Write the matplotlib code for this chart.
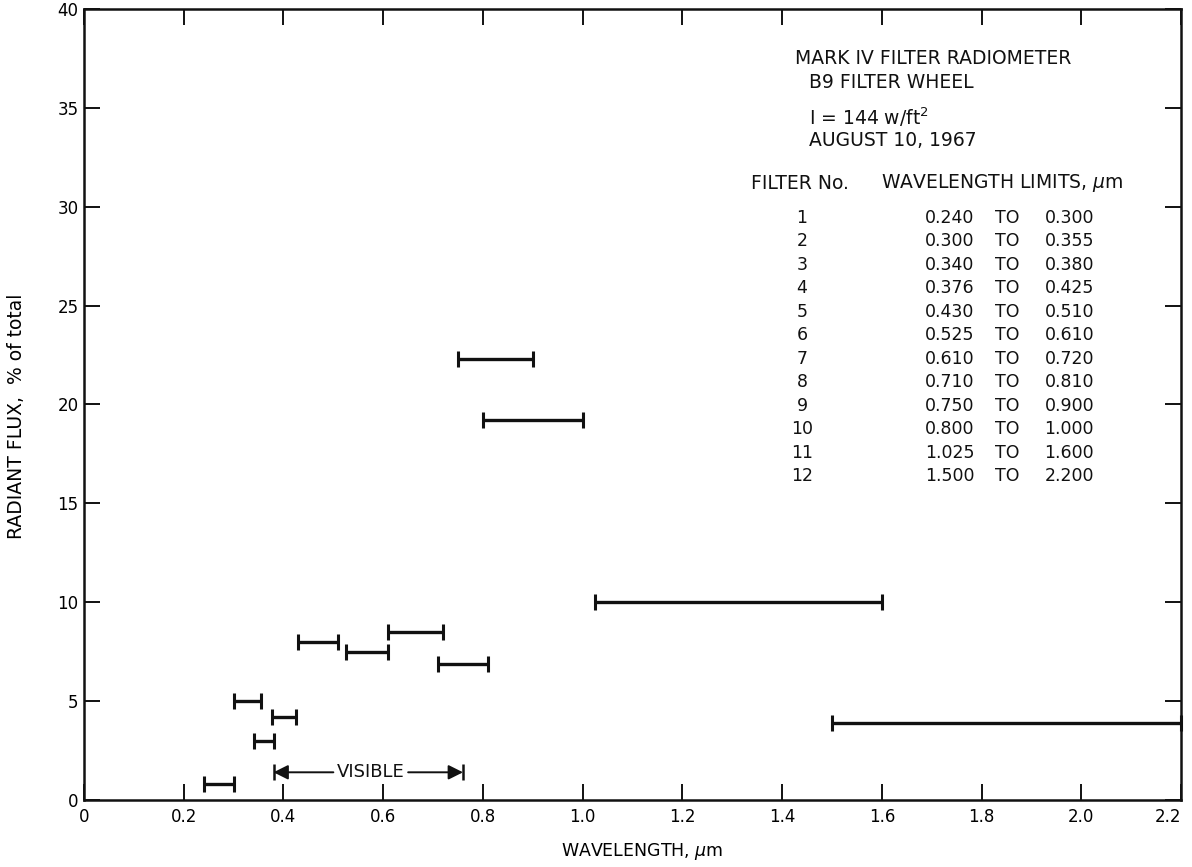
import matplotlib
matplotlib.use("Agg")
import matplotlib.pyplot as plt

# Filter passbands (micrometres) and measured radiant flux share (% of total)
filter_no = [1, 2, 3, 4, 5, 6, 7, 8, 9, 10, 11, 12]
lower_um = [0.240, 0.300, 0.340, 0.376, 0.430, 0.525, 0.610, 0.710, 0.750, 0.800, 1.025, 1.500]
upper_um = [0.300, 0.355, 0.380, 0.425, 0.510, 0.610, 0.720, 0.810, 0.900, 1.000, 1.600, 2.200]
flux_pct = [0.8, 5.0, 3.0, 4.2, 8.0, 7.5, 8.5, 6.9, 22.3, 19.2, 10.0, 3.9]

x_ticks = [0, 0.2, 0.4, 0.6, 0.8, 1.0, 1.2, 1.4, 1.6, 1.8, 2.0, 2.2]
x_ticklabels = ["0", "0.2", "0.4", "0.6", "0.8", "1.0", "1.2", "1.4", "1.6", "1.8", "2.0", "2.2"]
y_ticks = [0, 5, 10, 15, 20, 25, 30, 35, 40]

visible_band = (0.38, 0.76)

plt.rcParams["font.family"] = ["DejaVu Sans"]

fig = plt.figure(figsize=(11.92, 8.67), dpi=100)
ax = fig.add_axes([0.0705, 0.0773, 0.9203, 0.9123])

ink = "#111111"

# horizontal band segments with end caps
ax.hlines(flux_pct, lower_um, upper_um, color=ink, linewidth=2.4, zorder=3)
ax.plot(lower_um, flux_pct, linestyle="none", marker="|", markersize=11.5,
        markeredgewidth=2.2, color=ink, zorder=3, clip_on=False)
ax.plot(upper_um, flux_pct, linestyle="none", marker="|", markersize=11.5,
        markeredgewidth=2.2, color=ink, zorder=3, clip_on=False)

# visible-range marker
vy = 1.4
vmid = 0.575
ax.text(vmid, vy, "VISIBLE", ha="center", va="center", fontsize=13, color=ink)
ax.annotate("", xy=(visible_band[0], vy), xytext=(vmid - 0.075, vy),
            arrowprops=dict(arrowstyle="-|>", color=ink, lw=1.4,
                            mutation_scale=22, shrinkA=0, shrinkB=0))
ax.annotate("", xy=(visible_band[1], vy), xytext=(vmid + 0.075, vy),
            arrowprops=dict(arrowstyle="-|>", color=ink, lw=1.4,
                            mutation_scale=22, shrinkA=0, shrinkB=0))
ax.plot(list(visible_band), [vy, vy], linestyle="none", marker="|",
        markersize=12, markeredgewidth=1.8, color=ink)

ax.set_xlim(0, 2.2)
ax.set_ylim(0, 40)
ax.set_xticks(x_ticks)
ax.set_xticklabels(x_ticklabels)
ax.set_yticks(y_ticks)
ax.tick_params(direction="in", length=11.5, width=1.4, color=ink,
               labelsize=12, top=True, right=True, pad=6)
ax.tick_params(axis="y", pad=4)
# keep the last wavelength label inside the figure edge
ax.get_xticklabels()[-1].set_horizontalalignment("right")
for s in ax.spines.values():
    s.set_linewidth(1.8)
    s.set_color(ink)

ax.set_xlabel("WAVELENGTH, $\\mu$m", fontsize=12.5)
ax.xaxis.set_label_coords(0.509, -0.052)
ax.set_ylabel("RADIANT FLUX,  % of total", fontsize=13.5)
ax.yaxis.set_label_coords(-0.053, 0.485)

# title block and passband table
fs = 13.5
fn = 12.5
ax.text(1.425, 37.5, "MARK IV FILTER RADIOMETER", fontsize=fs, va="center", color=ink)
ax.text(1.453, 36.3, "B9 FILTER WHEEL", fontsize=fs, va="center", color=ink)
ax.text(1.453, 34.55, "I = 144 w/ft$^2$", fontsize=fs, va="center", color=ink)
ax.text(1.453, 33.35, "AUGUST 10, 1967", fontsize=fs, va="center", color=ink)
ax.text(1.337, 31.2, "FILTER No.", fontsize=fs, va="center", color=ink)
ax.text(1.598, 31.2, "WAVELENGTH LIMITS, $\\mu$m", fontsize=fs, va="center", color=ink)

row0 = 29.45
step = 1.19
for i, (n, lo, hi) in enumerate(zip(filter_no, lower_um, upper_um)):
    yy = row0 - i * step
    ax.text(1.44, yy, f"{n}", fontsize=fn, ha="center", va="center", color=ink)
    ax.text(1.786, yy, f"{lo:.3f}", fontsize=fn, ha="right", va="center", color=ink)
    ax.text(1.826, yy, "TO", fontsize=fn, ha="left", va="center", color=ink)
    ax.text(1.926, yy, f"{hi:.3f}", fontsize=fn, ha="left", va="center", color=ink)

fig.savefig("out.png", dpi=100)
